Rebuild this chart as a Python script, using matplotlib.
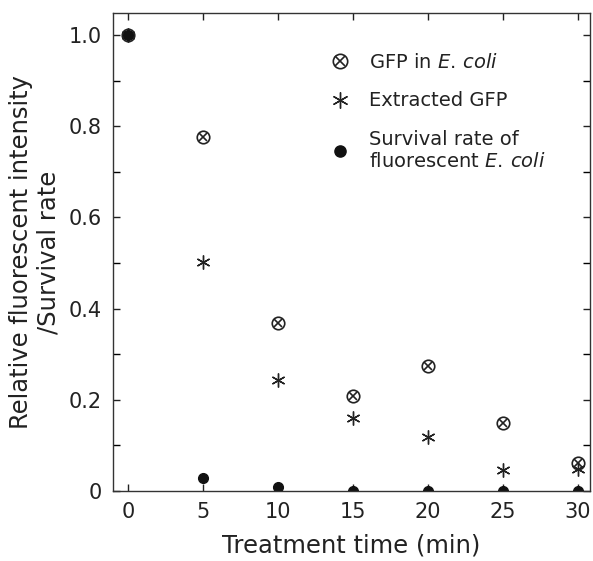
import matplotlib
matplotlib.use("Agg")
import matplotlib.pyplot as plt
from matplotlib.ticker import MultipleLocator

# data
time_min = [0, 5, 10, 15, 20, 25, 30]
gfp_in_ecoli = [1.0, 0.776, 0.368, 0.208, 0.274, 0.149, 0.061]
extracted_gfp = [1.0, 0.502, 0.243, 0.160, 0.118, 0.046, 0.048]
survival_rate = [1.0, 0.028, 0.009, 0.001, 0.001, 0.001, 0.001]

fig = plt.figure(figsize=(5.93, 5.61), dpi=100)
ax = fig.add_axes([0.1906, 0.1248, 0.8044, 0.852])

# GFP in E. coli: circle with cross
h_circ, = ax.plot(time_min, gfp_in_ecoli, linestyle="none", marker="o", markersize=9,
                  markerfacecolor="none", markeredgecolor="#222222", markeredgewidth=1.2)
h_x, = ax.plot(time_min, gfp_in_ecoli, linestyle="none", marker="x", markersize=6,
               color="#222222", markeredgewidth=1.2)
h_ast, = ax.plot(time_min, extracted_gfp, linestyle="none", marker=(6, 2, 0), markersize=10,
                 color="#222222", markeredgewidth=1.0)
h_dot, = ax.plot(time_min, survival_rate, linestyle="none", marker="o", markersize=7,
                 color="#111111")

ax.set_xlim(-1, 30.8)
ax.set_ylim(0, 1.048)
ax.xaxis.set_major_locator(MultipleLocator(5))
ax.yaxis.set_major_locator(MultipleLocator(0.2))
ax.yaxis.set_minor_locator(MultipleLocator(0.1))
ax.set_yticklabels(["0" if abs(v) < 1e-9 else f"{v:.1f}" for v in ax.get_yticks()])
ax.tick_params(direction="in", top=True, right=True, labelsize=15, length=5, width=1,
               colors="#222222", pad=8)
ax.tick_params(which="minor", direction="in", right=True, length=5, width=1)
for s in ax.spines.values():
    s.set_linewidth(1.0)
    s.set_color("#333333")

ax.set_xlabel("Treatment time (min)", fontsize=17.5, color="#222222", labelpad=8)
ax.set_ylabel("Relative fluorescent intensity\n/Survival rate", fontsize=17.5,
              color="#222222", labelpad=6)

leg = ax.legend([(h_circ, h_x), h_ast, h_dot],
                [r"GFP in $\it{E.\,coli}$", "Extracted GFP",
                 "Survival rate of\n" + r"fluorescent $\it{E.\,coli}$"],
                loc="upper left", bbox_to_anchor=(0.4145, 0.953), frameon=False,
                fontsize=14, handlelength=1.2, handletextpad=0.9, labelspacing=1.0,
                markerscale=1.15)
for t in leg.get_texts():
    t.set_color("#222222")

fig.savefig("out.png", dpi=100)
